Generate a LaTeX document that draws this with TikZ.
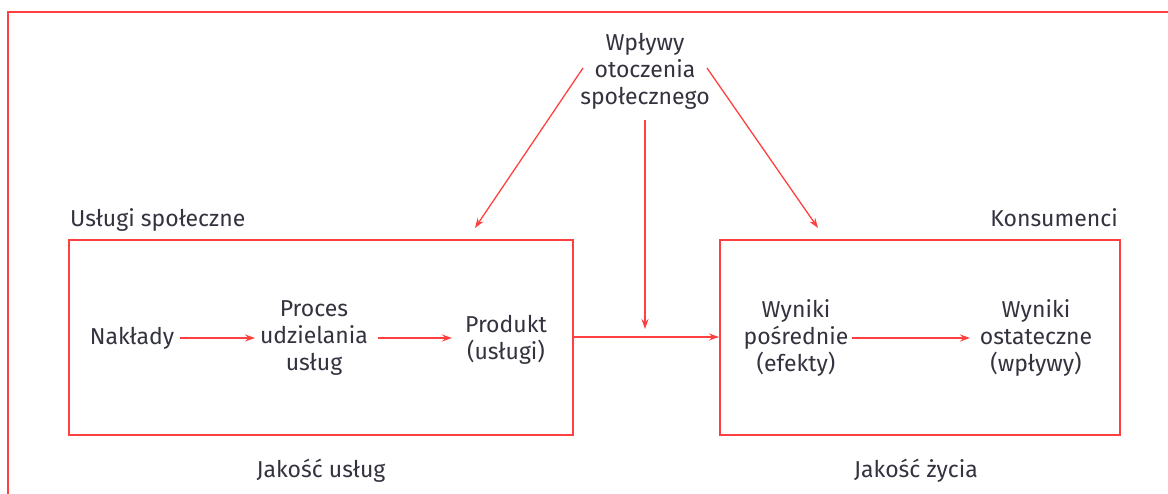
\documentclass[tikz,border=0pt]{standalone}
\usepackage{fontspec}
\setmainfont{Fira Sans}
\usetikzlibrary{arrows.meta}
\definecolor{lred}{HTML}{FF4040}
\definecolor{txt}{HTML}{33333F}
\begin{document}
\begin{tikzpicture}[x=1pt,y=-1pt,
  txtnode/.style={text=txt,font=\fontsize{23}{27}\selectfont,align=center,inner sep=0pt},
  frameline/.style={draw=lred,line width=1.6pt},
  boxline/.style={draw=lred,line width=1.6pt},
  conn/.style={draw=lred,line width=1.3pt,-{Stealth[length=10pt,width=7pt]}}]
\useasboundingbox (0,0) rectangle (1168,494);
% outer frame (open right and bottom)
\draw[frameline] (8,494) -- (8,12) -- (1168,12);
% boxes
\node[boxline,minimum width=504pt,minimum height=195pt,anchor=north west,inner sep=0pt] (b1) at (68,239) {};
\node[boxline,minimum width=400pt,minimum height=195pt,anchor=north west,inner sep=0pt] (b2) at (719,239) {};
% labels
\node[txtnode,anchor=base west] (l1) at (70,227) {Usługi społeczne};
\node[txtnode,anchor=base east] (l2) at (1118,227) {Konsumenci};
\node[txtnode,anchor=base] (l3) at (321,477) {Jakość usług};
\node[txtnode,anchor=base] (l4) at (916,477) {Jakość życia};
% top node
\node[txtnode] (top) at (645,71) {Wpływy\\otoczenia\\społecznego};
% inner nodes
\node[txtnode] (n1) at (132,338) {Nakłady};
\node[txtnode] (n2) at (314,338) {Proces\\udzielania\\usług};
\node[txtnode] (n3) at (506,340) {Produkt\\(usługi)};
\node[txtnode] (n4) at (796,338) {Wyniki\\pośrednie\\(efekty)};
\node[txtnode] (n5) at (1036,338) {Wyniki\\ostateczne\\(wpływy)};
% coordinates
\coordinate (tl) at (583,68);
\coordinate (tle) at (475,228);
\coordinate (tr) at (707,68);
\coordinate (tre) at (818,228);
\coordinate (tm) at (645,120);
\coordinate (tme) at (645,329);
\coordinate (h1) at (572,337);
\coordinate (h2) at (719,337);
\coordinate (a1s) at (180,338);
\coordinate (a1e) at (255,338);
\coordinate (a2s) at (378,338);
\coordinate (a2e) at (452,338);
\coordinate (a3s) at (852,338);
\coordinate (a3e) at (970,338);
% connectors
\draw[conn] (tl) -- (tle);
\draw[conn] (tr) -- (tre);
\draw[conn] (tm) -- (tme);
\draw[conn] (h1) -- (h2);
\draw[conn] (a1s) -- (a1e);
\draw[conn] (a2s) -- (a2e);
\draw[conn] (a3s) -- (a3e);
\end{tikzpicture}
\end{document}
